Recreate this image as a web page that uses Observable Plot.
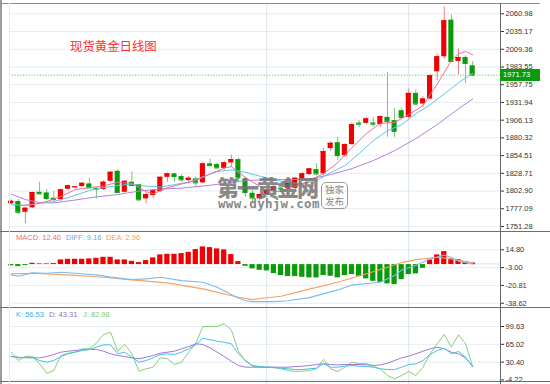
<!DOCTYPE html>
<html><head><meta charset="utf-8">
<script src="https://cdn.jsdelivr.net/npm/d3@7"></script>
<script src="https://cdn.jsdelivr.net/npm/@observablehq/plot@0.6"></script>
<style>
html,body{margin:0;padding:0;background:#fff;}
#wrap{position:relative;width:550px;height:384px;overflow:hidden;background:#fff;font-family:"Liberation Sans",Arial,sans-serif;}
.pane{position:absolute;left:0;}
</style></head><body>
<div id="wrap">
  <div class="pane" id="p1" style="top:0"></div>
  <div class="pane" id="p2" style="top:231px"></div>
  <div class="pane" id="p3" style="top:308px"></div>
</div>
<script>
// ---------- data ----------
const open = [1784.3,1787.6,1772.0,1778.5,1801.1,1800.2,1792.4,1790.5,1805.5,1807.9,
1809.4,1813.3,1806.9,1805.0,1817.1,1831.7,1801.1,1815.7,1812.3,1791.5,
1796.3,1802.1,1822.9,1827.9,1824.0,1818.1,1820.6,1814.8,1842.4,1841.4,
1836.0,1843.9,1848.7,1820.6,1799.7,1791.5,1797.8,1803.6,1807.2,1806.5,
1806.5,1820.6,1826.9,1834.1,1827.9,1864.7,1873.4,1854.5,1870.5,1901.8,
1901.5,1902.0,1899.6,1910.2,1905.4,1919.9,1910.2,1945.1,1929.7,1936.9,
1976.6,1998.4,2051.8,1991.6,1997.4,1985.3];
const high = [1790.1,1790.5,1778.5,1801.4,1815.7,1805.0,1802.1,1805.8,1811.9,1809.7,
1815.2,1821.5,1807.5,1818.1,1831.2,1833.7,1818.1,1830.8,1813.1,1801.1,
1804.6,1824.0,1829.3,1829.3,1826.9,1824.0,1822.9,1844.7,1849.7,1843.9,
1846.2,1855.5,1850.6,1822.9,1803.6,1798.5,1805.8,1811.9,1808.4,1815.7,
1822.9,1829.8,1836.3,1842.9,1864.7,1874.9,1881.1,1871.9,1902.5,1905.4,
1909.8,1910.2,1912.6,1975.6,1922.8,1923.3,1951.5,1950.0,1940.3,1972.3,
2002.4,2071.2,2059.5,2009.6,1999.9,1991.2];
const low = [1783.3,1768.7,1755.2,1777.4,1798.0,1789.1,1786.6,1787.6,1803.6,1807.2,
1808.4,1806.1,1791.5,1803.6,1815.7,1799.7,1800.0,1809.4,1788.0,1784.3,
1791.5,1801.1,1815.7,1815.7,1815.7,1813.3,1808.4,1813.3,1838.5,1835.1,
1832.7,1837.5,1819.2,1793.9,1786.6,1786.6,1796.3,1802.1,1803.6,1805.0,
1803.6,1818.1,1825.4,1825.4,1825.4,1860.3,1847.2,1851.6,1869.0,1895.2,
1899.6,1895.6,1895.6,1881.1,1881.1,1907.9,1907.9,1927.2,1924.7,1935.5,
1963.6,1995.1,1990.2,1972.3,1959.6,1969.3];
const close = [1788.0,1772.0,1777.9,1800.7,1798.8,1791.9,1790.5,1804.6,1810.4,1808.9,
1814.2,1807.5,1805.5,1815.7,1830.2,1800.7,1817.1,1810.9,1790.1,1797.8,
1803.6,1822.9,1827.9,1824.0,1819.2,1821.5,1814.8,1842.4,1839.9,1836.6,
1843.9,1848.7,1822.1,1800.7,1792.8,1797.8,1803.6,1809.4,1806.1,1813.8,
1821.5,1827.9,1835.1,1827.9,1860.3,1872.4,1854.5,1870.5,1899.6,1900.3,
1907.9,1900.3,1911.2,1904.4,1889.8,1910.2,1945.1,1929.7,1936.9,1970.8,
1998.4,2050.8,1991.6,1997.4,1988.7,1971.73];

const ma5Idx = [2,4,6,8,10,12,14,16,18,20,21,23,25,27,29,31,32,33,35,37,39,41,43,45,47,49,51,53,55,57,59,61,63,64,65,66];
const ma5Val = [1781.8,1783.2,1787.6,1794.9,1805.0,1807.9,1810.2,1815.7,1813.8,1802.1,1798.8,1807.9,1813.1,1818.1,1827.6,1836.3,1838.5,1829.8,1816.0,1803.6,1802.1,1809.4,1818.1,1828.3,1844.3,1866.0,1886.4,1901.5,1902.9,1914.1,1927.2,1958.7,1992.6,2002.4,2006.2,2001.3];
const ma10Idx = [1,3,5,7,9,12,14,16,18,20,22,24,26,28,30,32,34,36,38,40,42,44,46,48,50,52,54,56,58,60,62,64,66];
const ma10Val = [1783.2,1781.8,1785.1,1787.6,1793.4,1803.6,1807.9,1810.9,1813.1,1810.2,1808.7,1812.3,1815.9,1823.9,1831.2,1833.7,1830.2,1824.7,1819.6,1815.2,1813.8,1818.1,1829.8,1839.9,1857.4,1876.3,1890.8,1899.6,1915.6,1928.6,1944.2,1960.6,1974.2];
const ma20Idx = [1,3,5,7,10,13,16,19,22,25,28,31,34,37,40,43,46,49,52,55,58,61,64,66];
const ma20Val = [1798.5,1790.5,1786.1,1785.7,1789.8,1794.4,1797.8,1802.9,1805.8,1807.2,1810.2,1813.8,1818.1,1819.6,1819.6,1820.3,1826.9,1835.6,1847.2,1861.7,1879.2,1899.6,1922.8,1936.9];

const macdBar = [-1.3,-2,-1,1.3,0.7,0.7,1,4.7,5.3,5.3,5.3,5.7,6.3,7.3,7.3,4.7,4.7,3.3,2,4,
6.7,9.7,10.3,10.3,11,12.3,15,17.7,17,15.7,14.7,10,3,-1.7,-4.3,-5.7,-6.3,-9,-11,-12,
-12,-12.7,-13.3,-13.3,-11,-11.7,-13.3,-11,-10,-11.7,-14.3,-16.7,-17.7,-19.3,-20,-15,-10,-9.3,-3.7,4.7,
9.7,13,5.7,5,3,1.7];
const diffIdx = [1,2,4,6,8,10,13,15,18,20,22,25,28,30,33,34,35,38,40,43,47,49,53,55,56,58,60,62,63,64,66];
const diffVal = [-10.3,-11.7,-8.3,-8.7,-7.7,-8.7,-10.3,-12.5,-15,-14.3,-12.7,-16,-17.7,-22.7,-33.5,-36.2,-37,-37,-36.2,-33,-25.3,-20.5,-17.7,-11,-5.5,-0.7,5.5,9.5,7,3.5,0.7];
const deaIdx = [1,4,9,14,18,23,28,33,35,37,39,43,47,52,54,56,58,61,63,66];
const deaVal = [-9.3,-8.7,-10.3,-12.7,-15.3,-18.3,-24.3,-32.7,-35,-33.2,-31.7,-24.5,-17.7,-7.2,-2.7,2,5,7.3,5.7,1.7];

const kdjK = [41.3,38.7,40,38.7,33.5,30.2,33.5,41.3,46.5,49.7,52.9,54.9,59.4,64,64,46.5,49.7,39.9,30.2,33.5,
38.7,45.2,46.5,45.2,49.7,56.3,64,76.9,73.8,71,69.1,66,46.5,33.5,23.8,21.8,20.5,20.5,18.5,17.4,
16,16,17.4,18.5,27.1,20.5,20.5,22.4,23.8,22.4,21.8,20.5,17.4,16,16,20.5,25.7,27.1,33.5,45.2,
52.9,57.4,46.5,51,39.9,21.8];
const kdjD = [41.3,40,38.7,38.7,38.7,41.3,45.2,49.7,51.6,52.9,54.3,54.9,54.9,51.6,46.5,43.2,41.3,38.7,36.8,40,
43.2,47.7,49.7,51.6,56.3,60.7,66,64.6,58.2,49.7,41.3,32.1,23.8,20.5,20.5,20.5,20.5,20.5,20.5,20.5,
21.8,22.4,23.8,25.7,27.1,25.7,25.1,25.7,25.7,25.7,25.1,23.8,25.1,28.3,33.5,38.7,41.9,46.5,51.6,56.3,
59.4,56.3,49.7,46.5,38.7,21.8];
const kdjJ = [49.7,33.5,41.3,41.9,27.1,8.8,14.1,43.2,47.7,49.7,56.3,56.3,67.2,84.1,88.5,51.6,64.6,46.5,12.7,17.4,
20.5,38.7,36.8,25.7,30.2,49.7,67.2,99.6,99.6,99.6,104.9,93.2,51.6,32.1,22.4,20.5,20.5,19.5,17.4,14.1,
12.1,12.7,14.1,17.4,36,17.4,12.1,20.5,30.2,27.1,28.3,21.8,17.4,4.4,-2,4.4,12.1,4.4,20.5,46.5,
66,84.1,59.4,83.5,66,21.8];

const priceTicks = [2060.98,2035.17,2009.36,1983.55,1957.75,1931.94,1906.13,1880.32,1854.51,1828.71,1802.90,1777.09,1751.28];
const macdTicks = [14.80,-3.00,-20.81,-38.62];
const kdjTicks = [99.63,65.02,30.40,-4.22];
const monthStarts = [37,57];

const title = "现货黄金日线图";
const macdLegend = [["MACD: 12.40","#f26a6a",16],["DIFF: 9.16","#6aa6f0",66],["DEA: 2.96","#f2a05a",106]];
const kdjLegend = [["K: 56.53","#35b5dc",16],["D: 43.31","#9a6ccb",49],["J: 82.98","#86c86a",83]];
const maLegend = [["MA5: 2000.02","#ef6f96",15],["MA10: 1978.11","#4fc3e6",75],["MA20: 1936.49","#b07ad8",138]];

// ---------- colours ----------
const RED = "#f00000", GREEN = "#0a9b0a", RED_W = "#f07f7f", GREEN_W = "#74c874";
const C_MA5 = "#ef6f96", C_MA10 = "#5cc8ea", C_MA20 = "#b780dc";
const C_DIFF = "#7dbcf0", C_DEA = "#f5a263";
const C_K = "#45c2e6", C_D = "#a276d6", C_J = "#8ccd78";
const GRID = "#e5edf5", VGRID = "#d6e4ef";

// ---------- build ----------
const N = close.length;
const candles = d3.range(N).map(k => ({i: k + 1, o: open[k], h: high[k], l: low[k], c: close[k]}));
const up = d => d.c >= d.o;
const pts = (I, V) => I.map((i, k) => ({i, v: V[k]}));
const series = A => A.map((v, k) => ({i: k + 1, v}));
const xDomain = [0.76, 69.92];
const W = 550, ML = 9, MR = 50;
const axisOpts = {anchor: "right", label: null, tickSize: 3, tickPadding: 2, fontSize: 7.5, color: "#333", tickFormat: d => d.toFixed(2)};
const baseStyle = {background: "transparent", overflow: "visible", fontFamily: "Liberation Sans, Arial, sans-serif"};

const p1 = Plot.plot({
  width: W, height: 231, marginTop: 3, marginBottom: 0, marginLeft: ML, marginRight: MR,
  style: baseStyle,
  x: {domain: xDomain, axis: null},
  y: {domain: [1744.0, 2076.0], axis: null},
  marks: [
    Plot.ruleY(priceTicks, {stroke: GRID}),
    Plot.ruleX(monthStarts, {stroke: VGRID}),
    Plot.ruleY([close[N - 1]], {stroke: "#5cc95c", strokeDasharray: "1.2,1.6"}),
    Plot.ruleX(candles, {x: "i", y1: "l", y2: "h", stroke: d => up(d) ? RED_W : GREEN_W}),
    Plot.rect(candles, {x1: d => d.i - 0.36, x2: d => d.i + 0.36, y1: "o", y2: "c", fill: d => up(d) ? RED : GREEN}),
    Plot.ruleY(candles, {x1: d => d.i - 0.36, x2: d => d.i + 0.36, y: "c", stroke: d => up(d) ? RED : GREEN}),
    Plot.line(pts(ma20Idx, ma20Val), {x: "i", y: "v", stroke: C_MA20, strokeWidth: 1}),
    Plot.line(pts(ma10Idx, ma10Val), {x: "i", y: "v", stroke: C_MA10, strokeWidth: 1}),
    Plot.line(pts(ma5Idx, ma5Val), {x: "i", y: "v", stroke: C_MA5, strokeWidth: 1}),
    Plot.axisY(priceTicks, axisOpts)
  ]
});
document.getElementById("p1").append(p1);

const p2 = Plot.plot({
  width: W, height: 77, marginTop: 0, marginBottom: 0, marginLeft: ML, marginRight: MR,
  style: baseStyle,
  x: {domain: xDomain, axis: null},
  y: {domain: [-43.9, 33.1], axis: null},
  marks: [
    Plot.ruleY(macdTicks, {stroke: GRID}),
    Plot.ruleX(monthStarts, {stroke: VGRID}),
    Plot.rect(series(macdBar), {x1: d => d.i - 0.37, x2: d => d.i + 0.37, y1: 0, y2: "v", fill: d => d.v >= 0 ? RED : GREEN}),
    Plot.line(pts(deaIdx, deaVal), {x: "i", y: "v", stroke: C_DEA, strokeWidth: 1.1}),
    Plot.line(pts(diffIdx, diffVal), {x: "i", y: "v", stroke: C_DIFF, strokeWidth: 1.1}),
    Plot.ruleY([diffVal[diffVal.length - 1]], {x1: N, x2: xDomain[1], stroke: C_DIFF, strokeDasharray: "1.2,1.6"}),
    Plot.axisY(macdTicks, axisOpts)
  ]
});
document.getElementById("p2").append(p2);

const p3 = Plot.plot({
  width: W, height: 76, marginTop: 0, marginBottom: 0, marginLeft: ML, marginRight: MR,
  style: baseStyle,
  x: {domain: xDomain, axis: null},
  y: {domain: [-13.15, 134.63], axis: null},
  marks: [
    Plot.ruleY(kdjTicks, {stroke: GRID}),
    Plot.ruleX(monthStarts, {stroke: VGRID}),
    Plot.line(series(kdjJ), {x: "i", y: "v", stroke: C_J, strokeWidth: 1}),
    Plot.line(series(kdjD), {x: "i", y: "v", stroke: C_D, strokeWidth: 1}),
    Plot.line(series(kdjK), {x: "i", y: "v", stroke: C_K, strokeWidth: 1}),
    Plot.axisY(kdjTicks, axisOpts)
  ]
});
document.getElementById("p3").append(p3);

// ---------- overlays ----------
const wrap = document.getElementById("wrap");
function el(tag, style, text) {
  const e = document.createElement(tag);
  Object.assign(e.style, style);
  if (text != null) e.textContent = text;
  wrap.append(e);
  return e;
}
// frame lines
el("div", {position: "absolute", left: "0px", top: "0px", width: "2px", height: "384px", background: "#9c9c9c"});
el("div", {position: "absolute", left: "0px", top: "3px", width: "540px", height: "1px", background: "#8c8c8c"});
el("div", {position: "absolute", left: "0px", top: "231px", width: "550px", height: "1px", background: "#6e6e6e"});
el("div", {position: "absolute", left: "0px", top: "307px", width: "550px", height: "1px", background: "#6e6e6e"});
el("div", {position: "absolute", left: "0px", top: "381px", width: "550px", height: "1px", background: "#6e6e6e"});
el("div", {position: "absolute", left: "500px", top: "3px", width: "1px", height: "381px", background: "#666"});
el("div", {position: "absolute", left: "9px", top: "3px", width: "1px", height: "381px", background: "#e3ebf3"});

// last price box
const yLast = p1.scale("y").apply(close[N - 1]);
el("div", {position: "absolute", left: "500px", top: (yLast - 5.5) + "px", width: "40px", height: "11.5px", background: GREEN,
  color: "#fff", fontSize: "7.5px", lineHeight: "11.5px", paddingLeft: "3px", boxSizing: "border-box", fontFamily: "Liberation Sans, Arial, sans-serif"},
  close[N - 1].toFixed(2));

// top MA legend (clipped by the top edge, as in the original)
for (const [t, c, x] of maLegend) el("div", {position: "absolute", left: x + "px", top: "-6px", fontSize: "7.5px", lineHeight: "8px", color: c, whiteSpace: "nowrap"}, t);
// MACD legend
for (const [t, c, x] of macdLegend) el("div", {position: "absolute", left: x + "px", top: "234px", fontSize: "7.5px", lineHeight: "8px", color: c, whiteSpace: "nowrap"}, t);
// KDJ legend
for (const [t, c, x] of kdjLegend) el("div", {position: "absolute", left: x + "px", top: "311px", fontSize: "7.5px", lineHeight: "8px", color: c, whiteSpace: "nowrap"}, t);

// title
el("div", {position: "absolute", left: "70px", top: "40px", fontSize: "12.4px", lineHeight: "13px", color: "#ff2f2f",
  fontFamily: "'Noto Sans CJK SC', sans-serif", whiteSpace: "nowrap"}, title);

// watermark
el("div", {position: "absolute", left: "217px", top: "176px", fontSize: "22px", lineHeight: "21px", fontWeight: "900", color: "#707070",
  opacity: "0.82", letterSpacing: "-2px", fontFamily: "'Noto Sans CJK SC', sans-serif", whiteSpace: "nowrap"}, "第一黄金网");
el("div", {position: "absolute", left: "218px", top: "199px", fontSize: "12.5px", lineHeight: "10px", fontWeight: "bold", color: "#707070",
  opacity: "0.82", letterSpacing: "0.3px", fontFamily: "'DejaVu Sans Mono', monospace", whiteSpace: "nowrap"}, "www.dyhjw.com");
const box = el("div", {position: "absolute", left: "321px", top: "182px", width: "27px", height: "27px", border: "1.5px solid #8a8a8a",
  borderRadius: "5px", boxSizing: "border-box", color: "#777", opacity: "0.85", fontSize: "9.5px", lineHeight: "12px",
  textAlign: "center", fontFamily: "'Noto Sans CJK SC', sans-serif", paddingTop: "0px"});
box.innerHTML = "独家<br>发布";
</script>
</body></html>
